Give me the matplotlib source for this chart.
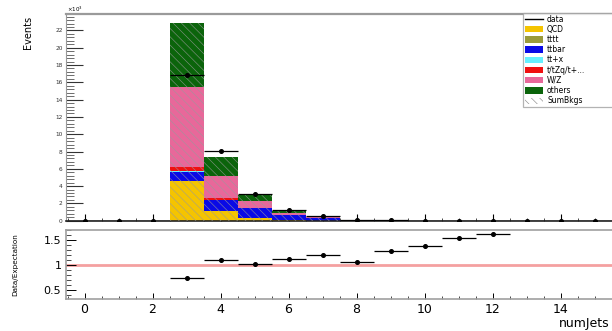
import numpy as np
import matplotlib
matplotlib.use("Agg")
import matplotlib.pyplot as plt
from matplotlib.patches import Patch
from matplotlib.lines import Line2D
from matplotlib.ticker import MultipleLocator, FixedLocator

plt.rcParams["hatch.linewidth"] = 0.45

# ---- data (units of 10^3 events) ----
bins = list(range(0, 18))
qcd    = [0, 0, 0, 4.55, 1.12, 0.35, 0.08, 0.02, 0.005, 0, 0, 0, 0, 0, 0, 0, 0, 0]
tttt   = [0, 0, 0, 0.01, 0.005, 0.003, 0.002, 0.001, 0, 0, 0, 0, 0, 0, 0, 0, 0, 0]
ttbar  = [0, 0, 0, 1.12, 1.28, 1.08, 0.56, 0.32, 0.08, 0.025, 0.007, 0.002, 0.0005, 0, 0, 0, 0, 0]
ttx    = [0, 0, 0, 0.02, 0.02, 0.01, 0.01, 0.003, 0.001, 0, 0, 0, 0, 0, 0, 0, 0, 0]
tzq    = [0, 0, 0, 0.49, 0.24, 0.06, 0.04, 0.01, 0.002, 0, 0, 0, 0, 0, 0, 0, 0, 0]
wz     = [0, 0, 0, 9.26, 2.51, 0.78, 0.24, 0.05, 0.01, 0, 0, 0, 0, 0, 0, 0, 0, 0]
others = [0, 0, 0, 7.41, 2.16, 0.69, 0.15, 0.04, 0.01, 0.003, 0, 0, 0, 0, 0, 0, 0, 0]
data   = [0, 0, 0, 16.9, 8.1, 3.05, 1.22, 0.52, 0.11, 0.036, 0.0096, 0.003, 0.0008, 0, 0, 0, 0, 0]

ratio_bins = [3, 4, 5, 6, 7, 8, 9, 10, 11, 12]
ratio      = [0.75, 1.10, 1.03, 1.13, 1.19, 1.06, 1.28, 1.37, 1.53, 1.61]
ratio_err  = [0.005, 0.008, 0.01, 0.012, 0.012, 0.015, 0.015, 0.015, 0.02, 0.025]

labels = ["QCD", "tttt", "ttbar", "tt+x", "t/tZq/t+...", "W/Z", "others"]
colors = ["#f5c400", "#9a9a3a", "#0a0ae6", "#66f0ff", "#f01010", "#e8689a", "#0b640b"]
xtick_labels = [0, 2, 4, 6, 8, 10, 12, 14]

# ---- figure ----
W, H = 612, 331
fig = plt.figure(figsize=(W / 100, H / 100), dpi=100)

x0 = 84.5        # pixel of x=0
ppu = 34.0       # pixels per unit
left_px = 65.5
right_px = 680
xl = ((left_px - x0) / ppu, (right_px - x0) / ppu)

top_y, bot_y = 14, 220.7
ax = fig.add_axes([left_px / W, 1 - bot_y / H, (right_px - left_px) / W, (bot_y - top_y) / H])
r_top, r_bot = 230, 299
axr = fig.add_axes([left_px / W, 1 - r_bot / H, (right_px - left_px) / W, (r_bot - r_top) / H])

x = np.array(bins, dtype=float)
series = [qcd, tttt, ttbar, ttx, tzq, wz, others]
bottom = np.zeros(len(bins))
for vals, c in zip(series, colors):
    v = np.array(vals)
    ax.bar(x, v, width=1.0, bottom=bottom, color=c, linewidth=0, align="center", zorder=2)
    bottom += v
# SumBkgs hatch overlay
ax.bar(x, bottom, width=1.0, bottom=0, facecolor="none", edgecolor="#9a9a9a",
       hatch="\\\\\\\\", linewidth=0, zorder=3, alpha=0.8)

d = np.array(data)
ax.errorbar(x, d, xerr=0.5, yerr=np.sqrt(np.maximum(d, 0) / 1000.0), fmt="o", color="black",
            ms=2.6, elinewidth=0.9, capsize=0, zorder=5)

ax.set_xlim(*xl)
ax.set_ylim(0, 23.9)
ax.yaxis.set_major_locator(MultipleLocator(2))
ax.yaxis.set_minor_locator(MultipleLocator(0.4))
ax.xaxis.set_major_locator(MultipleLocator(2))
ax.xaxis.set_minor_locator(MultipleLocator(0.5))
ax.tick_params(axis="y", which="major", direction="in", length=12, width=0.8, labelsize=4.2, pad=2, colors="#333333")
ax.tick_params(axis="y", which="minor", direction="in", length=6, width=0.6, colors="#555555")
ax.tick_params(axis="x", which="major", direction="in", length=5, width=0.8, labelbottom=False)
ax.tick_params(axis="x", which="minor", direction="in", length=2.5, width=0.5)
for s in ["top", "left"]:
    ax.spines[s].set_color("#9a9a9a")
ax.spines["top"].set_linewidth(1.6)
ax.spines["bottom"].set_color("#222222")
ax.spines["bottom"].set_linewidth(1.2)
ax.spines["right"].set_visible(False)
ax.text(left_px / W + 0.002, 1 - 9 / H, r"$\times10^{3}$", transform=fig.transFigure, fontsize=4, va="center", ha="left")
fig.text(28 / W, 1 - 16 / H, "Events", rotation=90, fontsize=7, ha="center", va="top")

# ---- ratio panel ----
axr.axhline(1.0, color="#f4a0a0", lw=2.0, zorder=1)
axr.errorbar(np.array(ratio_bins, float), ratio, xerr=0.5, yerr=ratio_err, fmt="o", color="black",
             ms=2.6, elinewidth=0.9, capsize=0, zorder=5)
axr.set_xlim(*xl)
axr.set_ylim(0.32, 1.70)
axr.yaxis.set_major_locator(MultipleLocator(0.5))
axr.yaxis.set_minor_locator(MultipleLocator(0.1))
axr.xaxis.set_major_locator(FixedLocator(xtick_labels))
axr.xaxis.set_minor_locator(MultipleLocator(0.5))
axr.yaxis.set_major_formatter(matplotlib.ticker.FuncFormatter(lambda v, p: ("%g" % v)))
axr.tick_params(axis="y", which="major", direction="in", length=7, width=0.7, labelsize=8, pad=3)
axr.tick_params(axis="y", which="minor", direction="in", length=3.5, width=0.5)
axr.tick_params(axis="x", which="major", direction="in", length=4, width=0.7, labelsize=9, pad=3)
axr.tick_params(axis="x", which="minor", direction="in", length=2, width=0.5)
for s in ["top", "left", "bottom"]:
    axr.spines[s].set_color("#a0a0a0")
    axr.spines[s].set_linewidth(1.2)
axr.spines["right"].set_visible(False)
fig.text(15 / W, 1 - 265 / H, "Data/Expectation", rotation=90, fontsize=5.2, ha="center", va="center")
fig.text(610 / W, 1 - 323 / H, "numJets", fontsize=9, ha="right", va="center")

# ---- legend ----
handles = [Line2D([0], [0], color="black", lw=1.0)]
handles += [Patch(facecolor=c, edgecolor="none") for c in colors]
handles += [Patch(facecolor="white", edgecolor="#8c8c8c", hatch="\\\\\\\\", linewidth=0)]
leg_labels = ["data"] + labels + ["SumBkgs"]
leg = fig.legend(handles, leg_labels, loc="upper left",
                 bbox_to_anchor=(523 / W, 1 - 13 / H, 0.2, 0.001), mode="expand",
                 fontsize=5.5, frameon=True, fancybox=False, borderpad=0.25,
                 labelspacing=0.16, handlelength=2.4, handleheight=0.9, handletextpad=0.5,
                 borderaxespad=0)
leg.get_frame().set_edgecolor("#a0a0a0")
leg.get_frame().set_linewidth(0.9)

fig.savefig("out.png", dpi=100)
